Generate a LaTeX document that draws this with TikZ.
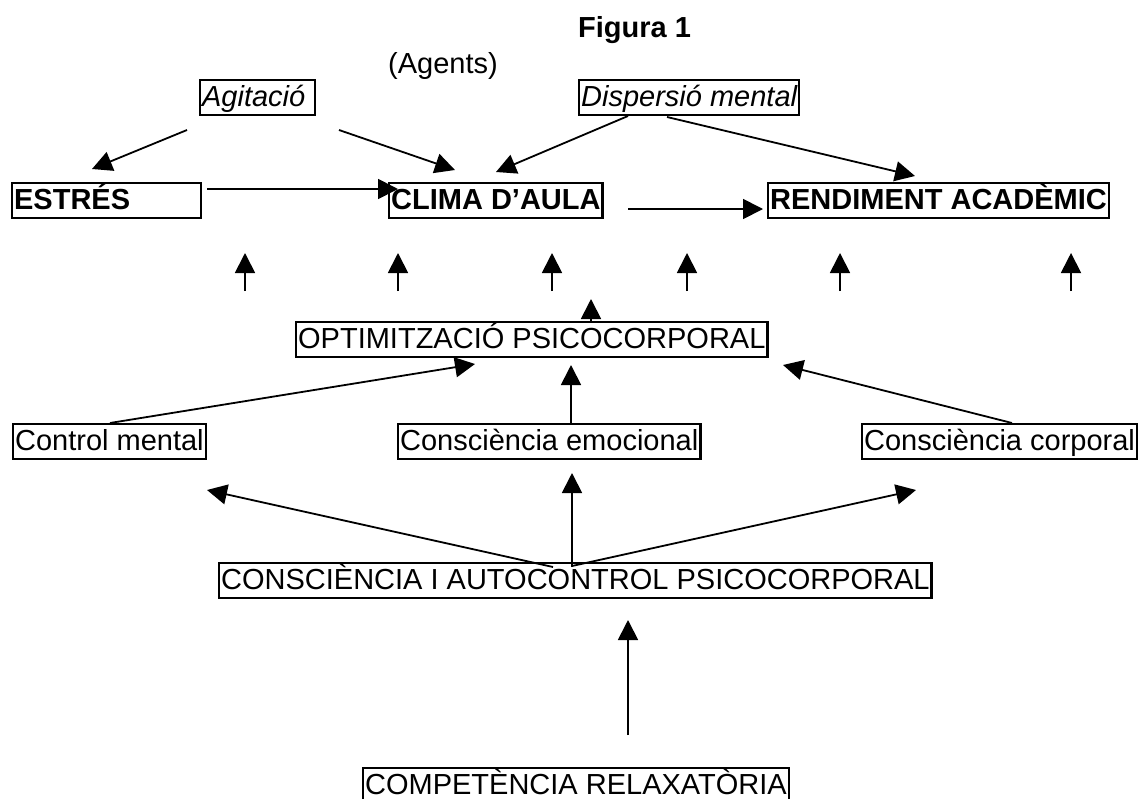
\documentclass[tikz,border=0pt]{standalone}
\usepackage{fontspec}
\setmainfont{Liberation Sans}
\usetikzlibrary{arrows.meta}
\begin{document}
\begin{tikzpicture}[x=1pt,y=-1pt,
  basefont/.style={font=\fontsize{29}{34}\selectfont},
  box/.style={draw, line width=2.3pt, inner xsep=2pt, inner ysep=0pt,
    text height=26pt, text depth=9pt, anchor=north west, basefont},
  boldbox/.style={box, font=\fontsize{29}{34}\selectfont\bfseries},
  itbox/.style={box, font=\fontsize{29}{34}\selectfont\itshape},
  conn/.style={line width=1.8pt, -{Triangle[length=20pt,width=20pt]}},
  caption/.style={inner sep=0pt, anchor=base west, basefont}]
\useasboundingbox (0,0) rectangle (1139,798);

% titles
\node[caption, font=\fontsize{29}{34}\selectfont\bfseries] (fig) at (578,37) {Figura 1};
\node[caption] (agents) at (388,73) {(Agents)};

% agents
\node[itbox, text width=111pt, align=left] (agit) at (199,79) {Agitació};
\node[itbox] (disp) at (578,79) {Dispersió mental};

% outcomes
\node[boldbox, text width=185pt, align=left] (estres) at (11,182) {ESTRÉS};
\node[boldbox] (clima) at (388,182) {CLIMA D’AULA};
\node[boldbox] (rend) at (767,182) {RENDIMENT ACADÈMIC};

% psychocorporal levels
\node[box] (opt) at (295,321) {OPTIMITZACIÓ PSICOCORPORAL};
\node[box] (cmental) at (12,423) {Control mental};
\node[box] (cemo) at (397,423) {Consciència emocional};
\node[box] (ccorp) at (861,423) {Consciència corporal};
\node[box] (cauto) at (218,562) {CONSCIÈNCIA I AUTOCONTROL PSICOCORPORAL};
\node[box] (comp) at (362,767) {COMPETÈNCIA RELAXATÒRIA};

% connector end points
\coordinate (agitL) at (187,130);   \coordinate (estresT) at (92,169);
\coordinate (agitR) at (339,130);   \coordinate (climaT1) at (455,170);
\coordinate (dispL) at (628,116);   \coordinate (climaT2) at (496,172);
\coordinate (dispR) at (667,117);   \coordinate (rendT) at (915,176);
\coordinate (estresR) at (207,189); \coordinate (climaL) at (398,189);
\coordinate (climaR) at (628,209);  \coordinate (rendL) at (763,209);
\coordinate (cmentalT) at (110,423); \coordinate (optL) at (475,364);
\coordinate (cemoT) at (571,423);    \coordinate (optB) at (571,365);
\coordinate (ccorpT) at (1012,423);  \coordinate (optR) at (783,365);
\coordinate (cautoL) at (553,567);   \coordinate (cmentalB) at (207,490);
\coordinate (cautoM) at (572,567);   \coordinate (cemoB) at (572,473);
\coordinate (cautoR) at (572,566);   \coordinate (ccorpB) at (916,490);
\coordinate (compT) at (628,735);    \coordinate (cautoB) at (628,620);

% agents acting on the classroom
\draw[conn] (agitL) -- (estresT);
\draw[conn] (agitR) -- (climaT1);
\draw[conn] (dispL) -- (climaT2);
\draw[conn] (dispR) -- (rendT);
\draw[conn] (estresR) -- (climaL);
\draw[conn] (climaR) -- (rendL);

% optimisation pushing upwards
\foreach \x [count=\i] in {245,398,552,687,840,1071} {
  \coordinate (up\i b) at (\x,291);
  \coordinate (up\i t) at (\x,253);
  \draw[conn] (up\i b) -- (up\i t);
}
\coordinate (optTip) at (591,299);
\draw[conn] (opt.north -| optTip) -- (optTip);

% three components into optimisation
\draw[conn] (cmentalT) -- (optL);
\draw[conn] (cemoT) -- (optB);
\draw[conn] (ccorpT) -- (optR);

% awareness and self-control into the components
\draw[conn] (cautoL) -- (cmentalB);
\draw[conn] (cautoM) -- (cemoB);
\draw[conn] (cautoR) -- (ccorpB);

% relaxation competence at the base
\draw[conn] (compT) -- (cautoB);
\end{tikzpicture}
\end{document}
